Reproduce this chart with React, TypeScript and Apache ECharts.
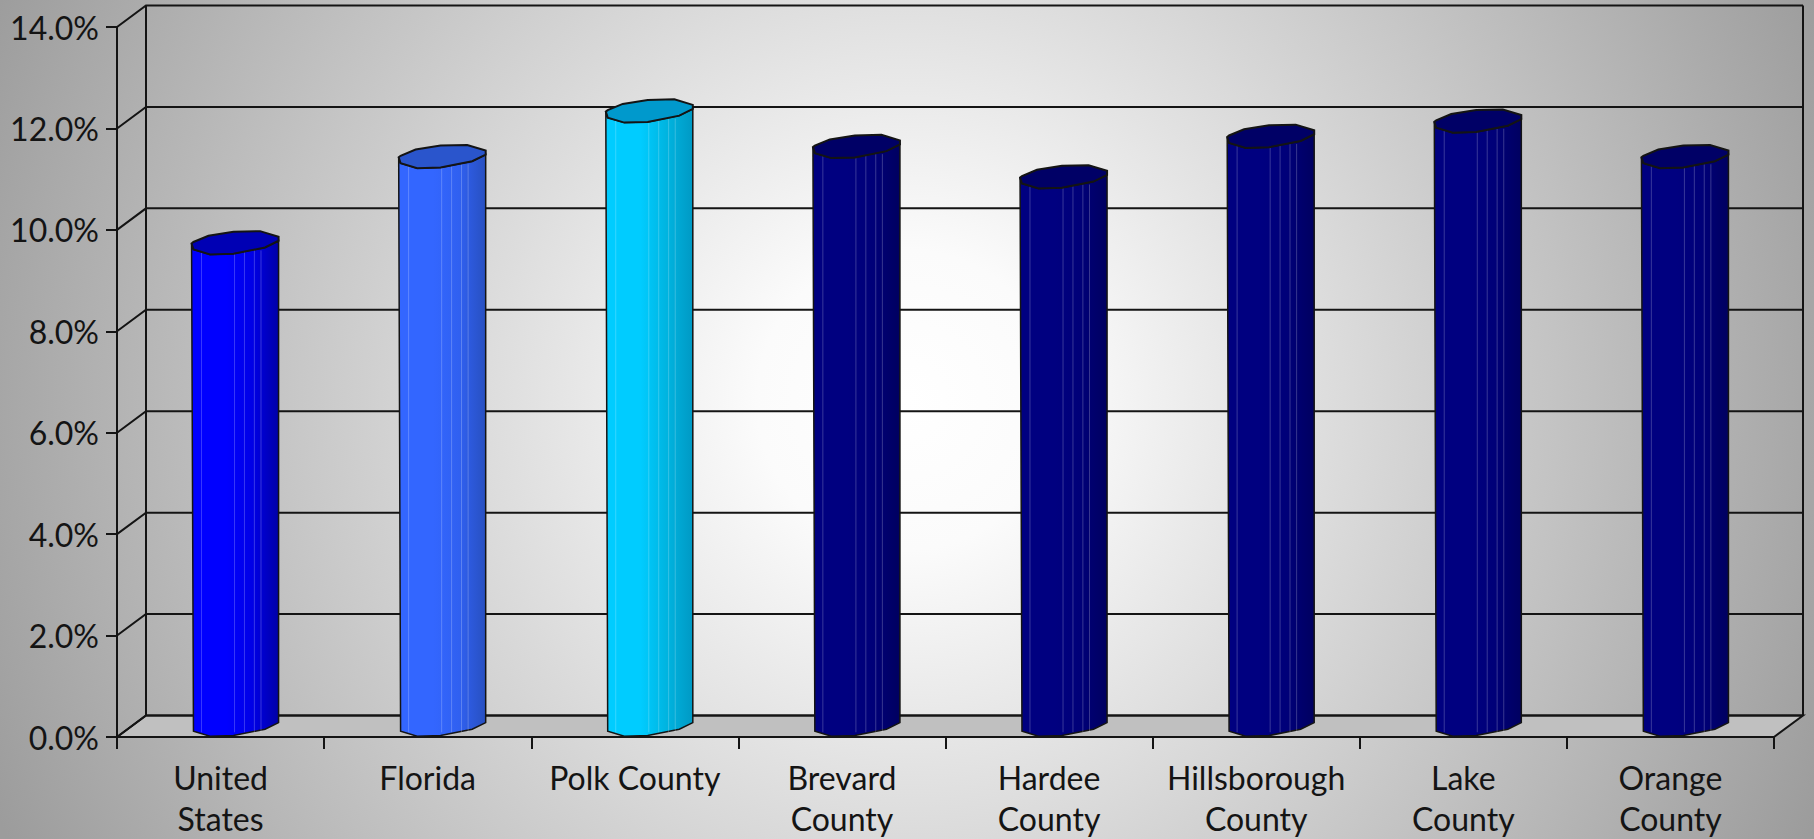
import React, { useEffect, useRef } from "react";
import * as echarts from "echarts";

const categories = [
  "United\nStates",
  "Florida",
  "Polk County",
  "Brevard\nCounty",
  "Hardee\nCounty",
  "Hillsborough\nCounty",
  "Lake\nCounty",
  "Orange\nCounty",
];
const rates = [9.5, 11.2, 12.1, 11.4, 10.8, 11.6, 11.9, 11.2];
const wallTicks = [0, 2, 4, 6, 8, 10, 12, 14];

// Shades per bar: lit side, mid side, dark side, lid.
const blue = ["#0000ff", "#0000e6", "#0000a8", "#0000b4"];
const royal = ["#3366ff", "#3060f0", "#2850c0", "#2a55cc"];
const cyan = ["#00ccff", "#00b4e0", "#0099c4", "#0099cc"];
const navy = ["#000080", "#000078", "#000060", "#000066"];
const barShades = [blue, royal, cyan, navy, navy, navy, navy, navy];

const INK = "#141414";
const FONT = "Lato, 'Noto Sans', sans-serif";

// Oblique projection of the chart's depth.
const DEPTH_X = 29;
const DEPTH_Y = -21.5;

// Outline of a cylinder's cross-section around its centre.
const HALF_WIDTH = 43.5;
const BACK_EDGE = [
  [-HALF_WIDTH, -1],
  [-41.6, -2.5],
  [-26.6, -8.7],
  [-1.6, -12.7],
  [25, -13.3],
  [HALF_WIDTH, -7.7],
];
const FRONT_EDGE = [
  [HALF_WIDTH, -3.7],
  [30, 3],
  [-1.6, 9.3],
  [-25, 10],
  [-41.6, 5],
];
const FACETS = [0.114, 0.494, 0.608, 0.722, 0.798];

function renderWall(params: any, api: any) {
  const grid = params.coordSys;
  const value = api.value(1);
  const y = api.coord([0, value])[1];
  const left = grid.x;
  const right = grid.x + grid.width;
  const line = { stroke: INK, lineWidth: 2, fill: "none" };
  const children: any[] = [];
  if (value === 0) {
    children.push({
      type: "polygon",
      shape: {
        points: [
          [left, y],
          [left + DEPTH_X, y + DEPTH_Y],
          [right + DEPTH_X, y + DEPTH_Y],
          [right, y],
        ],
      },
      style: { fill: "#c0c0c0", stroke: INK, lineWidth: 2 },
    });
    const top = api.coord([0, wallTicks[wallTicks.length - 1]])[1];
    [left + DEPTH_X, right + DEPTH_X].forEach((x) => {
      children.push({
        type: "line",
        shape: { x1: x, y1: y + DEPTH_Y, x2: x, y2: top + DEPTH_Y },
        style: line,
      });
    });
  }
  children.push({
    type: "polyline",
    shape: {
      points: [
        [left, y],
        [left + DEPTH_X, y + DEPTH_Y],
        [right + DEPTH_X, y + DEPTH_Y],
      ],
    },
    style: line,
  });
  return { type: "group", children };
}

function renderBar(params: any, api: any) {
  const index = api.value(0);
  const shades = barShades[index];
  const topPoint = api.coord([index, api.value(1)]);
  const basePoint = api.coord([index, 0]);
  const cx = topPoint[0] + DEPTH_X / 2;
  const topY = topPoint[1] + DEPTH_Y / 2;
  const baseY = basePoint[1] + DEPTH_Y / 2;

  const at = (y: number) => (p: number[]) => [cx + p[0], y + p[1]];
  const body = [
    ...FRONT_EDGE.map(at(baseY)),
    [cx - HALF_WIDTH, topY - 1],
    ...[...FRONT_EDGE].reverse().map(at(topY)),
  ];
  const lid = [...BACK_EDGE, ...FRONT_EDGE].map(at(topY));

  const facets = FACETS.map((f) => {
    const x = cx - HALF_WIDTH + f * 2 * HALF_WIDTH;
    return {
      type: "line",
      shape: { x1: x, y1: topY + 6, x2: x, y2: baseY + 6 },
      style: { stroke: "rgba(255,255,255,0.22)", lineWidth: 1 },
    };
  });

  return {
    type: "group",
    children: [
      {
        type: "polygon",
        shape: { points: body },
        style: {
          fill: new echarts.graphic.LinearGradient(0, 0, 1, 0, [
            { offset: 0, color: shades[0] },
            { offset: 0.4, color: shades[0] },
            { offset: 0.7, color: shades[1] },
            { offset: 1, color: shades[2] },
          ]),
          stroke: INK,
          lineWidth: 1.5,
        },
      },
      ...facets,
      {
        type: "polygon",
        shape: { points: lid },
        style: { fill: shades[3], stroke: INK, lineWidth: 2 },
      },
    ],
  };
}

export default function App() {
  const ref = useRef<HTMLDivElement>(null);

  useEffect(() => {
    document.body.style.margin = "0";
    const chart = echarts.init(ref.current!, null, { renderer: "svg" });
    chart.setOption({
      animation: false,
      backgroundColor: new echarts.graphic.RadialGradient(
        907,
        400,
        1000,
        [
          { offset: 0, color: "#ffffff" },
          { offset: 0.15, color: "#fbfbfb" },
          { offset: 1, color: "#9c9c9c" },
        ],
        true
      ),
      grid: { left: 117, top: 27, width: 1657, height: 711, containLabel: false },
      xAxis: {
        type: "category",
        data: categories,
        boundaryGap: true,
        axisLine: { show: true, lineStyle: { color: INK, width: 2 } },
        axisTick: {
          show: true,
          interval: 0,
          length: 12,
          inside: false,
          lineStyle: { color: INK, width: 2 },
        },
        axisLabel: {
          interval: 0,
          color: INK,
          fontFamily: FONT,
          fontSize: 32,
          lineHeight: 41,
          margin: 20,
        },
        splitLine: { show: false },
      },
      yAxis: {
        type: "value",
        min: 0,
        max: 14,
        interval: 2,
        axisLine: { show: true, lineStyle: { color: INK, width: 2 } },
        axisTick: {
          show: true,
          length: 11,
          lineStyle: { color: INK, width: 2 },
        },
        axisLabel: {
          color: INK,
          fontFamily: FONT,
          fontSize: 32,
          margin: 18,
          formatter: (v: number) => v.toFixed(1) + "%",
        },
        splitLine: { show: false },
      },
      series: [
        {
          type: "custom",
          name: "walls",
          renderItem: renderWall,
          data: wallTicks.map((v) => [0, v]),
          encode: { x: 0, y: 1 },
          silent: true,
          z: 1,
        },
        {
          type: "custom",
          name: "rates",
          renderItem: renderBar,
          data: rates.map((v, i) => [i, v]),
          encode: { x: 0, y: 1 },
          z: 2,
        },
      ],
    });
    return () => chart.dispose();
  }, []);

  return <div ref={ref} style={{ width: 1814, height: 839 }} />;
}
